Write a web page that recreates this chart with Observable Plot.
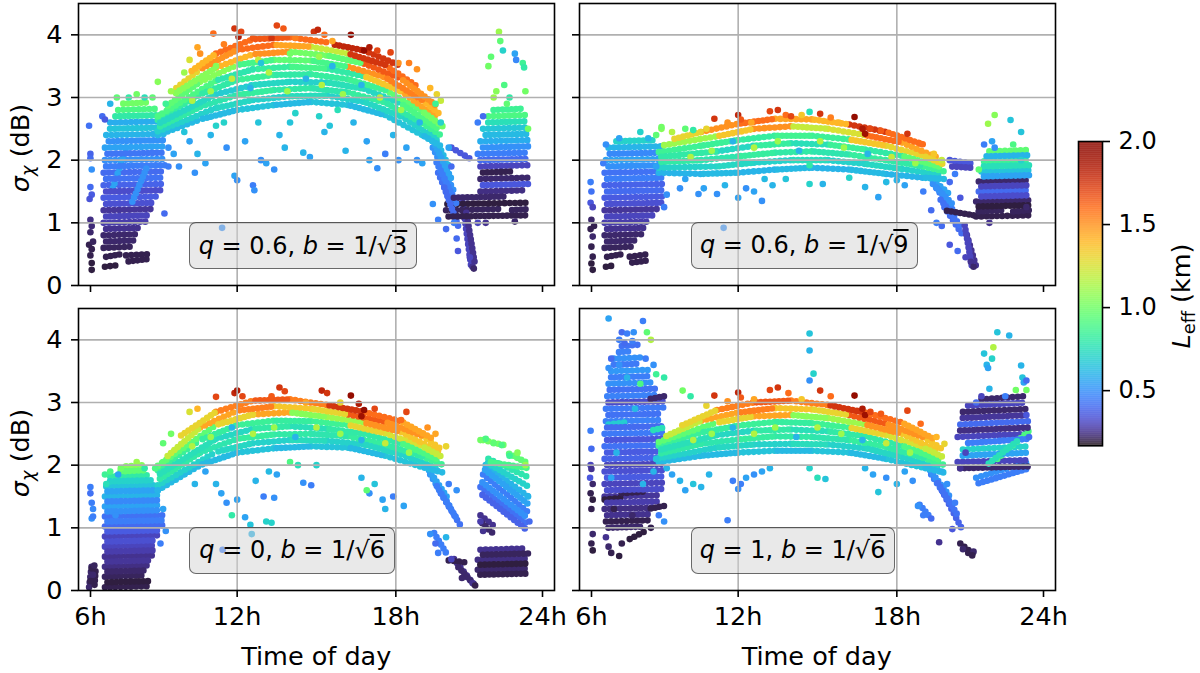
<!DOCTYPE html>
<html><head><meta charset="utf-8">
<script src="https://cdn.jsdelivr.net/npm/d3@7"></script>
<script src="https://cdn.jsdelivr.net/npm/@observablehq/plot@0.6"></script>
<style>
body{margin:0;background:#fff;font-family:"DejaVu Sans",sans-serif;}
#fig{position:relative;width:1200px;height:673px;overflow:hidden;background:#fff;}
.pl{position:absolute;}
.lab{position:absolute;white-space:nowrap;font-size:25.5px;color:#000;line-height:1;}
.rot{transform:translate(-50%,-50%) rotate(-90deg);}
.box{position:absolute;box-sizing:border-box;border:1.6px solid rgba(0,0,0,0.55);border-radius:7px;background:rgba(211,211,211,0.5);display:flex;align-items:center;justify-content:center;font-size:24px;white-space:nowrap;color:#000;}
sub{font-size:0.7em;vertical-align:-0.25em;line-height:0;}
.ov{text-decoration:overline;text-decoration-thickness:1.5px;}
</style></head>
<body><div id="fig"></div>
<script>
// ---------- tick labels / text ----------
const hourTicks = [6, 12, 18, 24];
const sigmaTicks = [0, 1, 2, 3, 4];
const leffTicks = [0.5, 1.0, 1.5, 2.0];
const qValues = ["0.6", "0.6", "0", "1"];
const bRoots = ["3", "9", "6", "6"];

// ---------- data ----------
// tracks / band: [h0, sigma0, h1, sigma1, Leff]  (points sampled along one link), dots: [h, sigma, Leff]
// ===== panel A: q = 0.6, b = 1/sqrt(3) =====
const tracksA = [
[7.0,0.3,7.4,0.32,0.19],[7.8,0.38,8.6,0.42,0.2],[7.8,0.48,8.6,0.5,0.2],[6.95,0.45,7.6,0.5,0.2],[6.95,0.6,8.0,0.62,0.21],
[6.95,0.7,8.2,0.72,0.22],[6.95,0.8,8.3,0.82,0.22],[6.95,0.9,8.4,0.92,0.25],[6.95,1.0,8.6,1.02,0.28],[6.95,1.1,8.7,1.12,0.3],
[6.95,1.2,8.8,1.22,0.26],[6.95,1.3,8.9,1.32,0.33],[6.95,1.4,9.0,1.42,0.36],[6.95,1.5,9.1,1.52,0.32],[6.95,1.6,9.2,1.62,0.38],
[6.95,1.7,9.2,1.72,0.42],[6.95,1.8,9.25,1.82,0.4],[6.95,1.9,9.3,1.92,0.45],[7.0,2.0,9.3,2.02,0.5],[7.0,2.1,9.3,2.12,0.43],
[7.0,2.2,9.3,2.22,0.55],[7.05,2.3,9.3,2.32,0.5],[7.05,2.4,9.3,2.42,0.6],[7.1,2.5,9.2,2.52,0.65],[7.2,2.6,9.1,2.62,0.58],
[7.3,2.7,9.2,2.72,0.8],[7.5,2.8,9.0,2.82,0.9],[7.6,2.9,8.6,2.92,1.0],[7.3,1.55,7.8,2.2,0.55],[8.0,1.3,8.6,1.9,0.5],
// evening
[19.2,2.6,20.0,1.9,0.62],[19.3,2.4,20.1,1.7,0.55],[19.4,2.2,20.2,1.5,0.5],[19.5,2.0,20.3,1.3,0.45],[19.6,1.8,20.3,1.1,0.42],
[19.8,1.6,20.4,0.9,0.4],[20.5,1.4,20.85,0.3,0.3],[20.65,1.2,21.0,0.32,0.25],[20.1,2.2,20.9,2.0,0.35],
// night
[19.9,1.1,23.0,1.12,0.2],[19.9,1.2,21.9,1.22,0.21],[22.3,1.2,23.0,1.22,0.21],[19.95,1.3,23.0,1.32,0.19],[20.1,1.4,22.2,1.42,0.22],
[21.2,1.5,22.9,1.52,0.24],[21.2,1.6,23.0,1.62,0.35],[21.2,1.7,23.0,1.72,0.22],[21.2,1.8,22.4,1.82,0.2],[21.2,1.9,23.05,1.92,0.3],
[21.1,2.0,23.05,2.02,0.4],[21.1,2.1,23.05,2.12,0.45],[21.2,2.2,23.05,2.22,0.5],[21.2,2.3,23.0,2.32,0.58],[21.3,2.4,23.0,2.42,0.62],
[21.3,2.5,23.0,2.52,0.66],[21.4,2.6,22.9,2.62,0.75],[21.5,2.7,22.9,2.72,0.9],[21.6,2.8,22.8,2.82,0.85]
];
const bandA = [
[9.0,2.4,10.6,2.65,0.62],[10.6,2.65,12.0,2.8,0.62],[12.0,2.8,13.4,2.88,0.65],[13.4,2.88,14.8,2.93,0.62],[14.8,2.93,16.2,2.88,0.65],[16.2,2.88,17.6,2.72,0.62],[17.6,2.72,19.0,2.4,0.65],[19.0,2.4,19.8,2.2,0.62],
[9.0,2.46,11.2,2.83,0.7],[11.2,2.83,12.6,2.96,0.72],[12.6,2.96,14.0,3.02,0.7],[14.0,3.02,15.4,3.03,0.74],[15.4,3.03,16.8,2.93,0.7],[16.8,2.93,18.2,2.7,0.72],[18.2,2.7,19.6,2.33,0.7],
[9.0,2.52,10.6,2.85,0.8],[10.6,2.85,12.0,3.04,0.78],[12.0,3.04,13.4,3.12,0.82],[13.4,3.12,14.8,3.15,0.8],[14.8,3.15,16.2,3.08,0.78],[16.2,3.08,17.6,2.92,0.82],[17.6,2.92,19.0,2.59,0.8],[19.0,2.59,19.8,2.37,0.85],
[9.0,2.58,11.2,3.05,0.72],[11.2,3.05,12.6,3.2,0.68],[12.6,3.2,14.0,3.25,0.72],[14.0,3.25,15.4,3.24,0.7],[15.4,3.24,16.8,3.14,0.75],[16.8,3.14,18.2,2.9,0.72],[18.2,2.9,19.6,2.5,0.9],
[9.0,2.64,10.6,3.05,0.82],[10.6,3.05,12.0,3.28,0.8],[12.0,3.28,13.4,3.36,0.84],[13.4,3.36,14.8,3.37,0.8],[14.8,3.37,16.2,3.29,0.82],[16.2,3.29,17.6,3.12,0.85],[17.6,3.12,19.0,2.78,0.95],[19.0,2.78,19.8,2.53,1.0],
[9.0,2.7,11.2,3.27,0.9],[11.2,3.27,12.6,3.45,0.78],[12.6,3.45,14.0,3.49,0.82],[14.0,3.49,15.4,3.46,0.88],[15.4,3.46,16.8,3.34,0.8],[16.8,3.34,18.2,3.1,1.35],[18.2,3.1,19.6,2.67,1.45],
[9.3,2.85,10.6,3.25,0.95],[10.6,3.25,12.0,3.52,1.05],[12.0,3.52,13.4,3.6,0.88],[13.4,3.6,14.8,3.59,0.95],[14.8,3.59,16.2,3.49,0.88],[16.2,3.49,17.6,3.32,1.5],[17.6,3.32,19.0,2.96,1.55],[19.0,2.96,19.7,2.72,1.4],
[9.6,3.05,11.2,3.48,1.05],[11.2,3.48,12.6,3.69,1.4],[12.6,3.69,14.0,3.73,1.5],[14.0,3.73,15.4,3.67,1.0],[15.4,3.67,16.8,3.54,0.95],[16.8,3.54,18.2,3.3,1.65],[18.2,3.3,19.5,2.88,1.5],
[9.7,3.15,10.6,3.45,1.3],[10.6,3.45,12.0,3.76,1.5],[12.0,3.76,13.4,3.84,1.6],[13.4,3.84,14.8,3.81,1.45],[14.8,3.81,16.2,3.7,1.2],[16.2,3.7,17.6,3.52,1.75],[17.6,3.52,18.9,3.15,1.6],
[10.2,3.4,11.2,3.7,1.4],[11.2,3.7,12.6,3.93,1.6],[12.6,3.93,14.0,3.96,1.65],[14.0,3.96,15.4,3.88,1.6],[15.6,3.85,16.8,3.75,1.8],[16.8,3.75,18.2,3.5,1.75]
];
const dotsA = [
[6.4,2.55,0.42],[6.45,2.1,0.38],[6.45,2.03,0.4],[6.5,1.85,0.5],[6.45,1.57,0.4],[6.5,1.45,0.36],[6.42,1.38,0.34],
[6.45,1.05,0.24],[6.5,0.95,0.23],[6.45,0.85,0.22],[6.4,0.65,0.2],[6.5,0.58,0.2],[6.45,0.48,0.2],[6.5,0.36,0.19],
[6.5,0.25,0.19],[6.55,0.7,0.21],
[6.9,2.7,0.4],[7.0,2.65,0.36],[7.2,2.9,0.6],[7.45,3.0,0.95],[7.9,3.0,0.8],[8.2,3.05,1.0],[8.5,3.0,0.75],
[8.8,3.0,0.95],[9.0,3.25,1.05],[9.3,2.9,0.85],[9.4,2.2,0.5],[9.4,1.9,0.45],[9.25,1.15,0.4],[9.5,3.1,1.1],
[10.0,3.4,1.1],[10.2,3.6,1.25],[10.5,3.8,1.45],[10.6,3.7,1.5],[11.1,4.02,1.6],[11.5,3.85,1.55],[11.9,4.1,1.75],
[12.05,3.97,1.85],[12.15,4.05,1.7],[12.6,3.95,1.65],[13.3,3.95,1.75],[13.5,4.15,1.7],[13.75,4.1,1.65],
[14.2,3.95,1.55],[14.9,4.05,1.75],[15.05,4.08,1.8],[15.3,4.0,1.6],[15.6,3.9,1.45],[16.3,4.0,1.95],
[16.8,3.75,1.95],[17.0,3.8,1.85],[17.3,3.75,1.7],[17.8,3.72,1.7],[18.1,3.55,1.5],[18.5,3.55,1.55],[18.8,3.45,1.5],
[19.3,3.15,1.4],[19.55,3.05,1.3],[19.7,2.95,1.2],[15.1,3.65,1.1],[14.0,3.7,1.0],[11.2,3.5,1.05],[12.8,3.6,1.2],
[10.3,2.95,1.15],[11.0,3.1,1.1],[11.8,3.3,1.2],[12.5,3.15,0.6],[13.2,3.4,1.15],[13.9,3.1,1.1],[14.6,3.3,0.6],
[15.2,3.2,1.15],[16.0,3.05,1.1],[16.7,3.2,0.6],[17.4,3.0,1.2],[18.2,2.8,1.1],[18.9,2.6,0.6],[12.9,3.55,0.65],[15.6,3.5,0.6],
[10.2,2.3,0.55],[10.5,2.1,0.6],[10.8,1.95,0.55],[11.0,2.4,0.6],[11.2,2.55,0.7],[11.6,2.2,0.5],[11.9,1.75,0.55],
[12.0,1.68,0.5],[12.3,2.3,0.55],[12.6,1.6,0.45],[12.65,1.52,0.5],[12.9,2.0,0.5],[13.1,1.95,0.55],[13.4,1.85,0.5],
[13.6,2.4,0.6],[14.0,2.6,0.65],[14.5,2.12,0.6],[14.75,2.05,0.55],[15.1,2.7,0.7],[15.5,2.55,0.65],[15.8,2.8,0.75],
[16.4,2.6,0.6],[16.9,2.3,0.55],[17.0,2.0,0.55],[17.3,1.87,0.5],[17.6,2.1,0.45],[17.9,2.4,0.6],[18.1,2.0,0.5],
[18.4,2.2,0.55],[18.8,2.0,0.5],[19.0,1.95,0.55],[9.6,2.1,0.55],[9.8,1.9,0.5],[16.1,2.15,0.6],[15.3,2.45,0.6],
[12.8,2.6,0.65],[13.8,2.2,0.6],[11.43,0.92,0.5],[10.4,1.8,0.5],[14.2,2.75,0.7],[10.0,2.45,0.65],[11.5,2.6,0.7],
[19.5,2.9,0.85],[19.7,2.6,0.7],[20.0,2.2,0.55],[20.1,1.9,0.4],[20.3,0.75,0.4],[20.35,0.55,0.35],[20.9,0.3,0.25],
[20.95,0.27,0.22],[20.8,0.45,0.3],[19.6,1.05,0.45],[20.2,1.0,0.45],[19.4,1.3,0.5],[19.9,0.9,0.4],
[21.9,4.05,1.1],[21.95,3.9,0.95],[22.05,3.75,0.7],[22.5,3.7,0.55],[22.55,3.6,0.48],[22.8,3.55,0.85],[22.85,3.48,0.8],
[21.6,3.65,0.95],[21.5,3.5,1.0],[22.1,3.2,0.9],[21.8,3.1,1.05],[22.3,3.0,0.8],[21.3,2.7,0.4],[21.1,2.6,0.45],
[22.9,3.1,1.0],[23.0,2.5,1.0],[21.1,1.0,0.3],[21.4,1.0,0.25],[22.5,1.02,0.22],[22.2,2.9,0.95],[21.7,3.0,1.1]
];

// ===== panel B: q = 0.6, b = 1/sqrt(9) =====
const tracksB = [
[7.0,0.3,7.3,0.32,0.19],[7.9,0.36,8.6,0.4,0.2],[7.9,0.46,8.6,0.5,0.2],[6.95,0.45,7.6,0.5,0.2],[6.95,0.6,8.0,0.62,0.21],
[6.95,0.7,8.2,0.72,0.22],[6.95,0.8,8.4,0.82,0.22],[6.95,0.9,8.5,0.92,0.25],[6.95,1.0,8.7,1.02,0.28],[6.95,1.1,8.9,1.12,0.3],
[6.95,1.2,9.0,1.22,0.26],[6.95,1.3,9.1,1.32,0.33],[6.95,1.4,9.2,1.42,0.36],[6.95,1.5,9.2,1.52,0.4],[6.95,1.6,9.2,1.62,0.38],
[6.95,1.7,9.25,1.72,0.45],[6.95,1.8,9.3,1.82,0.42],[7.0,1.9,9.3,1.92,0.5],[7.0,2.0,9.3,2.02,0.55],[7.05,2.1,9.2,2.12,0.48],
[7.1,2.2,9.1,2.22,0.6],[7.3,2.3,8.9,2.32,0.7],
[19.2,1.75,20.0,1.45,0.55],[19.3,1.65,20.1,1.3,0.5],[19.5,1.55,20.3,1.1,0.45],[19.6,1.4,20.4,0.95,0.42],[19.8,1.25,20.5,0.8,0.4],
[20.55,1.0,20.85,0.28,0.3],[20.65,0.8,21.0,0.3,0.25],[19.8,1.2,20.9,1.12,0.2],[20.0,2.0,20.8,1.95,0.35],[20.0,1.9,20.8,1.88,0.3],
[21.0,1.1,23.0,1.12,0.2],[21.0,1.18,22.0,1.2,0.21],[22.4,1.18,23.0,1.2,0.21],[21.0,1.26,23.0,1.28,0.19],[21.0,1.34,23.0,1.36,0.22],
[21.1,1.42,23.0,1.44,0.32],[21.1,1.5,23.05,1.52,0.4],[21.1,1.58,23.05,1.6,0.3],[21.1,1.66,23.05,1.68,0.22],[21.2,1.74,23.05,1.76,0.55],
[21.2,1.82,23.05,1.84,0.65],[21.2,1.9,23.0,1.92,0.75],[21.3,1.98,23.0,2.0,0.85],[21.3,2.06,23.0,2.08,0.6],[21.5,2.14,22.9,2.16,0.95]
];
const bandB = [
[9.0,1.8,10.6,1.78,0.6],[10.6,1.78,12.0,1.8,0.62],[12.0,1.8,13.4,1.85,0.6],[13.4,1.85,14.8,1.88,0.62],[14.8,1.88,16.2,1.85,0.6],[16.2,1.85,17.6,1.78,0.62],[17.6,1.78,19.0,1.72,0.6],[19.0,1.72,19.8,1.7,0.62],
[9.0,1.88,11.2,1.9,0.7],[11.2,1.9,12.6,1.96,0.72],[12.6,1.96,14.0,2.0,0.7],[14.0,2.0,15.4,2.0,0.74],[15.4,2.0,16.8,1.94,0.7],[16.8,1.94,18.2,1.86,0.72],[18.2,1.86,19.6,1.77,0.7],
[9.0,1.97,10.6,2.0,0.8],[10.6,2.0,12.0,2.06,0.78],[12.0,2.06,13.4,2.12,0.82],[13.4,2.12,14.8,2.14,0.8],[14.8,2.14,16.2,2.09,0.78],[16.2,2.09,17.6,2.0,0.82],[17.6,2.0,19.0,1.9,0.8],[19.0,1.9,19.8,1.82,0.85],
[9.0,2.05,11.2,2.14,0.8],[11.2,2.14,12.6,2.23,0.72],[12.6,2.23,14.0,2.27,0.82],[14.0,2.27,15.4,2.25,0.75],[15.4,2.25,16.8,2.17,0.84],[16.8,2.17,18.2,2.07,0.8],[18.2,2.07,19.6,1.9,0.95],
[9.0,2.13,10.6,2.23,0.85],[10.6,2.23,12.0,2.32,0.84],[12.0,2.32,13.4,2.39,0.82],[13.4,2.39,14.8,2.39,0.86],[14.8,2.39,16.2,2.33,0.84],[16.2,2.33,17.6,2.23,1.35],[17.6,2.23,19.0,2.07,1.3],[19.0,2.07,19.8,1.93,1.3],
[9.2,2.24,11.2,2.38,1.1],[11.2,2.38,12.6,2.5,1.35],[12.6,2.5,14.0,2.54,1.5],[14.0,2.54,15.4,2.5,1.2],[15.4,2.5,16.8,2.4,1.25],[16.8,2.4,18.2,2.28,1.6],[18.2,2.28,19.6,2.03,1.45],
[9.5,2.33,10.6,2.45,1.3],[10.6,2.45,12.0,2.58,1.5],[12.0,2.58,13.4,2.66,1.6],[13.4,2.66,14.8,2.65,1.45],[14.8,2.65,16.2,2.57,1.4],[16.2,2.57,17.6,2.45,1.75],[17.6,2.45,19.0,2.25,1.6]
];
const dotsB = [
[6.42,1.65,0.45],[6.45,1.5,0.42],[6.42,1.32,0.35],[6.5,1.25,0.3],[6.45,1.05,0.22],[6.42,0.9,0.2],[6.5,0.78,0.22],
[6.45,0.62,0.2],[6.5,0.46,0.2],[6.45,0.35,0.19],[6.5,0.25,0.19],[6.55,0.95,0.2],
[6.9,1.95,0.45],[7.0,2.25,0.5],[7.5,2.35,0.55],[8.3,2.45,0.7],[8.6,2.35,0.6],[8.9,2.4,0.95],[9.1,2.5,1.05],
[9.2,1.25,0.45],[9.3,1.45,0.5],[8.9,1.9,0.55],
[11.1,2.66,1.75],[12.0,2.72,1.8],[12.1,2.65,1.65],[13.2,2.78,1.7],[13.5,2.8,1.75],[13.8,2.72,1.6],[14.0,2.7,1.7],
[15.1,2.74,1.75],[15.5,2.68,1.55],[16.4,2.69,1.95],[16.7,2.5,1.85],[16.8,2.42,1.9],[17.0,2.5,1.7],[17.4,2.47,1.65],
[18.4,2.42,1.75],[18.9,2.26,1.6],[14.7,2.77,0.75],[14.4,2.72,1.35],[9.1,2.53,1.0],[9.5,2.45,1.15],[10.0,2.5,0.95],
[10.3,2.48,0.8],[10.8,2.5,1.3],[11.6,2.6,1.5],[12.5,2.6,1.45],[15.8,2.6,1.4],[19.4,2.1,1.35],[19.7,2.0,1.2],
[10.2,2.05,1.15],[11.0,2.15,1.1],[11.8,2.3,0.6],[12.6,2.2,1.15],[13.5,2.3,1.1],[14.3,2.15,0.6],[15.1,2.3,1.15],
[16.0,2.2,1.1],[16.9,2.1,0.6],[17.8,2.05,1.2],[18.7,1.95,1.1],
[10.5,1.46,0.5],[10.7,1.55,0.55],[11.2,1.46,0.5],[11.5,1.6,0.6],[12.0,1.4,0.55],[12.3,1.55,0.5],[12.9,1.35,0.5],
[12.6,1.5,0.55],[13.3,1.6,0.6],[13.8,1.7,0.65],[14.7,1.62,0.7],[15.2,1.62,0.6],[14.7,1.92,0.8],[13.0,1.7,0.62],
[10.0,1.7,0.55],[9.8,1.55,0.5],[16.8,1.57,0.6],[17.3,1.41,0.55],[17.6,1.65,0.62],[18.0,1.68,0.6],[18.3,1.6,0.55],
[16.2,1.72,0.7],[11.45,0.92,0.5],
[19.0,1.5,0.45],[19.3,1.2,0.4],[19.5,1.0,0.45],[19.7,0.95,0.4],[20.0,0.65,0.35],[20.3,0.55,0.4],[20.6,0.45,0.3],
[20.8,0.38,0.25],[20.9,0.3,0.22],[20.7,0.7,0.3],
[21.7,2.72,1.05],[22.3,2.64,0.65],[21.45,2.58,1.1],[22.7,2.45,0.65],[21.6,2.3,0.55],[21.3,2.25,0.45],[22.4,2.25,0.9],
[21.7,2.2,0.5],[22.7,2.0,0.7],[21.1,1.85,0.95],[20.2,1.78,0.45],[20.0,1.65,0.4],[20.4,1.4,0.35],[22.9,1.25,0.22],[21.5,1.0,0.25]
];

// ===== panel C: q = 0, b = 1/sqrt(6) =====
const tracksC = [
[6.4,0.05,6.5,0.4,0.22],[6.6,0.05,6.65,0.35,0.2],
[7.0,0.05,8.7,0.07,0.2],[7.0,0.13,8.7,0.15,0.19],[7.0,0.22,8.5,0.24,0.21],[7.0,0.3,8.6,0.32,0.22],[7.0,0.38,8.6,0.4,0.24],
[7.0,0.46,8.7,0.48,0.26],[7.0,0.54,8.8,0.56,0.25],[7.0,0.62,8.8,0.64,0.28],[7.0,0.7,8.9,0.72,0.3],[7.0,0.78,8.9,0.8,0.33],
[7.0,0.86,9.0,0.88,0.3],[7.0,0.94,9.1,0.96,0.36],[7.0,1.02,9.3,1.04,0.4],[7.0,1.1,9.3,1.12,0.45],[7.0,1.18,9.2,1.2,0.42],
[7.0,1.26,9.1,1.28,0.5],[7.0,1.34,9.1,1.36,0.55],[7.0,1.42,9.1,1.44,0.48],[7.0,1.5,9.0,1.52,0.6],[7.0,1.58,9.0,1.6,0.55],
[7.05,1.66,8.9,1.68,0.65],[7.1,1.74,8.8,1.76,0.7],[7.2,1.82,8.7,1.84,0.8],[7.5,1.9,8.6,1.92,0.95],[7.8,1.98,8.4,2.0,1.05],
[19.2,1.95,20.0,1.45,0.55],[19.3,1.85,20.1,1.3,0.5],[19.5,1.7,20.3,1.15,0.45],[19.7,1.55,20.5,1.0,0.42],[19.4,0.95,19.9,0.6,0.45],
[20.2,0.5,20.9,0.12,0.25],[20.3,0.4,21.0,0.08,0.22],[20.0,0.48,20.6,0.45,0.2],
[21.1,0.25,23.0,0.27,0.2],[21.1,0.33,23.0,0.35,0.22],[21.1,0.41,23.0,0.43,0.19],[21.1,0.49,23.0,0.51,0.24],[21.2,0.57,23.0,0.59,0.21],[21.2,0.65,22.9,0.67,0.25],
[21.2,1.55,23.0,0.95,0.38],[21.2,1.65,23.0,1.05,0.42],[21.2,1.75,23.0,1.15,0.5],[21.3,1.85,23.0,1.25,0.45],[21.3,1.95,23.0,1.38,0.55],
[21.4,2.0,23.0,1.5,0.6],[21.4,2.05,23.05,1.65,0.7],[21.5,2.1,23.05,1.8,0.78],[21.5,2.05,23.05,1.95,0.88],[21.3,2.4,22.1,2.32,1.0],
[22.2,2.2,22.9,2.05,0.95],[21.2,1.2,21.8,1.0,0.25],[21.2,1.1,21.7,0.9,0.22]
];
const bandC = [
[9.0,1.6,10.6,2.0,0.62],[10.6,2.0,12.0,2.2,0.62],[12.0,2.2,13.4,2.27,0.65],[13.4,2.27,14.8,2.3,0.62],[14.8,2.3,16.2,2.28,0.65],[16.2,2.28,17.6,2.15,0.62],[17.6,2.15,19.0,1.97,0.65],[19.0,1.97,19.8,1.88,0.62],
[9.0,1.68,11.2,2.21,0.7],[11.2,2.21,12.6,2.35,0.72],[12.6,2.35,14.0,2.4,0.7],[14.0,2.4,15.4,2.39,0.74],[15.4,2.39,16.8,2.33,0.7],[16.8,2.33,18.2,2.17,0.72],[18.2,2.17,19.6,1.96,0.7],
[9.0,1.76,10.6,2.2,0.8],[10.6,2.2,12.0,2.42,0.78],[12.0,2.42,13.4,2.49,0.82],[13.4,2.49,14.8,2.5,0.8],[14.8,2.5,16.2,2.46,0.78],[16.2,2.46,17.6,2.33,0.82],[17.6,2.33,19.0,2.14,0.8],[19.0,2.14,19.8,2.0,0.85],
[9.0,1.84,11.2,2.42,0.75],[11.2,2.42,12.6,2.58,0.72],[12.6,2.58,14.0,2.62,0.8],[14.0,2.62,15.4,2.58,0.75],[15.4,2.58,16.8,2.5,0.8],[16.8,2.5,18.2,2.35,0.8],[18.2,2.35,19.6,2.09,0.9],
[9.0,1.92,10.6,2.4,0.84],[10.6,2.4,12.0,2.64,0.82],[12.0,2.64,13.4,2.71,0.84],[13.4,2.71,14.8,2.7,0.82],[14.8,2.7,16.2,2.64,0.85],[16.2,2.64,17.6,2.51,1.3],[17.6,2.51,19.0,2.3,1.25],[19.0,2.3,19.8,2.12,1.2],
[9.0,1.99,11.2,2.64,0.95],[11.2,2.64,12.6,2.81,1.3],[12.6,2.81,14.0,2.84,1.45],[14.0,2.84,15.4,2.77,1.05],[15.4,2.77,16.8,2.68,1.1],[16.8,2.68,18.2,2.53,1.5],[18.2,2.53,19.6,2.22,1.35],
[9.3,2.12,10.6,2.6,1.2],[10.6,2.6,12.0,2.87,1.45],[12.0,2.87,13.4,2.94,1.55],[13.4,2.94,14.8,2.9,1.35],[14.8,2.9,16.2,2.81,1.3],[16.2,2.81,17.6,2.69,1.65],[17.6,2.69,19.0,2.47,1.5],[19.0,2.47,19.7,2.26,1.35],
[9.8,2.45,11.2,2.85,1.3],[11.2,2.85,12.6,3.03,1.55],[12.6,3.03,14.0,3.05,1.65],[14.0,3.05,15.4,2.96,1.55],[15.4,2.96,16.8,2.85,1.75],[16.8,2.85,18.2,2.7,1.6],[18.2,2.7,19.4,2.42,1.45]
];
const dotsC = [
[6.45,1.65,0.45],[6.45,1.55,0.42],[6.5,1.4,0.45],[6.55,1.3,0.48],[6.5,1.15,0.5],[6.55,1.18,0.45],[6.5,0.35,0.2],
[6.55,0.25,0.22],[6.45,0.15,0.2],[6.6,0.4,0.21],
[7.0,1.85,0.85],[7.05,1.7,0.75],[7.2,1.9,0.9],[7.6,1.95,1.0],[7.5,1.85,0.55],[8.2,2.05,1.1],[8.5,1.95,0.8],
[9.0,1.6,0.6],[9.2,1.3,0.55],[9.3,0.95,0.5],[9.1,0.75,0.45],[7.4,1.2,0.5],[8.9,1.95,0.9],[9.2,2.05,0.95],
[11.2,3.09,1.7],[11.9,3.15,1.8],[12.0,3.19,1.85],[12.2,3.1,1.7],[13.6,3.24,1.75],[13.8,3.18,1.7],[13.3,3.1,1.65],
[15.2,3.19,1.8],[15.4,3.15,1.75],[16.3,3.11,1.95],[16.6,2.98,1.85],[16.8,2.88,1.95],[16.7,2.78,1.9],[17.2,2.9,1.7],
[18.4,2.85,1.7],[18.2,2.72,1.6],[19.2,2.6,1.5],[19.5,2.5,1.45],[19.9,2.3,1.3],[10.2,2.85,1.25],[10.5,2.9,1.4],
[15.9,3.0,1.3],[14.6,3.0,1.45],[9.5,2.5,1.0],[9.2,2.35,0.95],
[10.3,2.3,1.15],[11.0,2.45,1.1],[11.8,2.6,0.6],[12.6,2.5,1.15],[13.4,2.6,1.1],[14.2,2.45,0.6],[15.0,2.6,1.15],
[15.9,2.5,1.1],[16.7,2.4,0.6],[17.6,2.35,1.2],[18.5,2.2,1.1],
[11.2,1.7,0.6],[11.4,1.55,0.55],[11.6,1.4,0.5],[12.0,1.45,0.55],[11.8,1.2,0.8],[12.3,1.17,0.55],[12.5,1.05,0.65],
[12.55,0.9,0.6],[13.1,1.1,0.7],[13.3,1.08,0.7],[13.0,1.5,0.45],[13.4,1.48,0.5],[12.7,1.75,0.6],[13.2,1.9,0.62],
[13.5,1.85,0.55],[14.0,2.05,0.9],[14.3,2.0,0.75],[14.5,1.72,0.5],[14.8,1.68,0.45],[15.0,2.0,0.7],[11.45,0.65,0.45],
[10.8,1.9,0.55],[10.4,1.7,0.6],[16.7,1.8,0.6],[17.0,1.55,0.5],[17.2,1.7,0.65],[17.5,1.45,0.55],[17.6,1.3,0.6],
[17.9,1.5,0.45],[16.9,1.6,0.95],[18.3,1.35,0.55],
[19.3,0.9,0.5],[19.5,0.75,0.4],[19.6,0.6,0.45],[19.9,0.85,0.6],[20.1,0.5,0.3],[20.5,0.2,0.22],[20.9,0.12,0.25],
[21.0,0.08,0.2],[21.2,2.4,1.0],[21.4,2.42,0.9],[21.7,2.35,0.95],[22.0,2.32,0.9],[22.3,2.15,0.85],[22.6,2.2,1.05],
[22.9,2.0,1.1],[23.0,1.5,0.6],[23.05,1.1,0.4],[21.2,1.1,0.28],[21.3,0.95,0.25],[20.0,1.7,0.45],[20.3,1.6,0.5]
];

// ===== panel D: q = 1, b = 1/sqrt(6) =====
const tracksD = [
[7.9,0.82,8.5,0.95,0.19],[7.0,1.0,8.4,1.02,0.22],[7.0,1.1,8.6,1.12,0.2],[6.95,1.2,8.7,1.22,0.25],[6.95,1.3,8.9,1.32,0.24],
[6.95,1.4,9.0,1.42,0.28],[6.95,1.5,9.1,1.52,0.26],[6.95,1.6,9.2,1.62,0.32],[6.95,1.7,9.2,1.72,0.3],[6.95,1.8,9.2,1.82,0.36],
[6.95,1.9,9.2,1.92,0.33],[6.95,2.0,9.2,2.02,0.3],[6.95,2.1,9.2,2.12,0.38],[6.95,2.2,9.2,2.22,0.36],[6.95,2.3,9.2,2.32,0.42],
[6.95,2.4,9.2,2.42,0.35],[6.95,2.5,9.2,2.52,0.44],[6.95,2.6,9.1,2.62,0.4],[7.0,2.7,9.1,2.72,0.46],[7.0,2.8,9.1,2.82,0.42],
[7.0,2.9,9.2,2.92,0.44],[7.0,3.0,9.2,3.02,0.32],[7.05,3.1,9.0,3.12,0.46],[7.05,3.2,8.9,3.22,0.42],[7.1,3.3,8.8,3.32,0.5],
[7.1,3.4,8.7,3.42,0.45],[7.2,3.5,8.6,3.52,0.52],[7.2,3.6,8.3,3.62,0.44],[7.3,3.7,8.4,3.72,0.5],[7.4,3.8,8.0,3.82,0.46],[7.6,3.9,8.2,3.92,0.42],
[8.6,1.3,9.2,1.35,0.2],[6.95,1.45,7.6,1.48,0.19],[8.7,2.55,9.2,2.6,0.75],[7.1,2.65,7.7,2.68,0.68],[8.6,3.05,9.2,3.1,0.22],[7.6,1.55,8.5,1.58,0.2],
[19.2,1.95,20.0,1.5,0.5],[19.3,1.85,20.1,1.35,0.45],[19.5,1.75,20.3,1.2,0.42],[19.7,1.6,20.5,0.95,0.38],[18.8,1.4,19.3,1.15,0.45],[20.4,0.75,20.9,0.58,0.2],
[21.0,1.7,23.0,1.95,0.45],[21.0,1.8,23.0,2.05,0.5],[20.3,1.95,23.0,1.98,0.22],[20.3,2.05,23.0,2.08,0.3],[20.4,2.15,23.0,2.2,0.55],
[20.5,2.25,23.0,2.3,0.7],[20.6,2.35,23.0,2.42,0.45],[20.3,2.45,23.0,2.5,0.3],[20.3,2.55,23.0,2.6,0.24],[20.4,2.65,23.0,2.7,0.4],
[20.4,2.75,23.0,2.8,0.26],[20.5,2.85,23.0,2.9,0.22],[20.6,2.95,22.9,3.0,0.3],[21.2,3.05,22.8,3.1,0.22],
[21.4,2.0,22.6,2.4,0.75],[21.8,2.1,23.0,2.55,0.9]
];
const bandD = [
[9.0,2.05,10.6,2.15,0.62],[10.6,2.15,12.0,2.2,0.62],[12.0,2.2,13.4,2.23,0.65],[13.4,2.23,14.8,2.23,0.62],[14.8,2.23,16.2,2.2,0.65],[16.2,2.2,17.6,2.1,0.62],[17.6,2.1,19.0,1.96,0.65],[19.0,1.96,19.8,1.88,0.62],
[9.0,2.11,11.2,2.28,0.7],[11.2,2.28,12.6,2.33,0.72],[12.6,2.33,14.0,2.34,0.7],[14.0,2.34,15.4,2.33,0.74],[15.4,2.33,16.8,2.27,0.7],[16.8,2.27,18.2,2.13,0.72],[18.2,2.13,19.6,1.96,0.7],
[9.0,2.18,10.6,2.34,0.8],[10.6,2.34,12.0,2.41,0.78],[12.0,2.41,13.4,2.46,0.82],[13.4,2.46,14.8,2.45,0.8],[14.8,2.45,16.2,2.4,0.78],[16.2,2.4,17.6,2.29,0.82],[17.6,2.29,19.0,2.12,0.8],[19.0,2.12,19.8,2.0,0.85],
[9.0,2.24,11.2,2.48,0.75],[11.2,2.48,12.6,2.55,0.72],[12.6,2.55,14.0,2.57,0.8],[14.0,2.57,15.4,2.54,0.75],[15.4,2.54,16.8,2.46,0.8],[16.8,2.46,18.2,2.31,0.8],[18.2,2.31,19.6,2.09,0.9],
[9.0,2.31,10.6,2.52,0.84],[10.6,2.52,12.0,2.63,0.82],[12.0,2.63,13.4,2.69,0.84],[13.4,2.69,14.8,2.67,0.82],[14.8,2.67,16.2,2.6,0.85],[16.2,2.6,17.6,2.48,1.3],[17.6,2.48,19.0,2.28,1.25],[19.0,2.28,19.8,2.12,1.2],
[9.0,2.37,11.2,2.68,0.95],[11.2,2.68,12.6,2.78,1.3],[12.6,2.78,14.0,2.8,1.45],[14.0,2.8,15.4,2.75,1.05],[15.4,2.75,16.8,2.65,1.1],[16.8,2.65,18.2,2.5,1.5],[18.2,2.5,19.6,2.22,1.35],
[9.2,2.45,10.6,2.71,1.2],[10.6,2.71,12.0,2.84,1.45],[12.0,2.84,13.4,2.91,1.55],[13.4,2.91,14.8,2.89,1.35],[14.8,2.89,16.2,2.8,1.3],[16.2,2.8,17.6,2.66,1.65],[17.6,2.66,19.0,2.45,1.5],[19.0,2.45,19.7,2.26,1.35],
[9.8,2.62,11.2,2.88,1.3],[11.2,2.88,12.6,3.0,1.55],[12.6,3.0,14.0,3.03,1.65],[14.0,3.03,15.4,2.96,1.55],[15.4,2.96,16.8,2.84,1.75],[16.8,2.84,18.2,2.68,1.6],[18.2,2.68,19.4,2.42,1.45]
];
const dotsD = [
[6.42,2.55,0.45],[6.45,2.26,0.4],[6.42,2.0,0.3],[6.45,1.94,0.25],[6.5,1.7,0.22],[6.42,1.55,0.2],[6.5,1.45,0.19],
[6.45,1.3,0.2],[6.5,0.9,0.22],[6.45,0.75,0.2],[6.5,0.64,0.19],[6.4,1.8,0.35],
[7.1,4.34,0.55],[7.5,4.0,0.45],[7.6,4.12,0.4],[7.8,4.1,0.45],[8.05,4.12,0.5],[8.4,4.3,0.45],[8.55,4.12,0.95],
[8.7,4.0,1.15],[8.3,3.3,0.9],[8.9,3.45,0.85],[9.2,3.4,0.8],[7.7,3.95,0.4],[7.2,3.7,0.4],[8.0,3.98,0.45],[7.5,3.6,0.5],
[7.1,0.7,0.22],[7.2,0.6,0.2],[7.5,0.55,0.19],[7.6,0.75,0.2],[7.0,0.85,0.25],[8.0,1.2,0.22],[8.7,1.0,0.2],
[9.0,1.2,0.45],[9.2,1.1,0.5],[8.8,1.9,0.6],[7.3,1.3,0.2],[8.5,3.7,0.45],[8.8,3.6,0.5],[7.1,3.55,0.5],
[7.4,2.2,0.6],[8.1,2.9,0.62],[7.8,3.4,0.6],[8.9,2.1,0.65],[7.2,1.8,0.55],[8.4,1.7,0.6],
[9.9,3.19,1.0],[10.2,3.1,0.8],[11.1,3.11,1.75],[12.0,3.16,1.8],[12.1,3.08,1.65],[13.2,3.2,1.7],[13.5,3.24,1.75],
[13.9,3.15,1.6],[15.1,3.19,1.75],[15.5,3.1,1.6],[16.4,3.11,1.95],[16.7,2.9,1.85],[16.8,2.8,1.9],[17.0,2.85,1.7],
[17.4,2.82,1.65],[18.4,2.87,1.7],[18.9,2.66,1.6],[19.5,2.45,1.4],[19.8,2.34,1.3],[14.4,3.05,1.35],[10.8,2.95,1.3],
[11.6,3.02,1.5],[12.6,3.05,1.45],
[10.3,2.4,1.15],[11.0,2.5,1.1],[11.8,2.6,0.6],[12.6,2.5,1.15],[13.4,2.6,1.1],[14.2,2.45,0.6],[15.0,2.6,1.15],
[15.9,2.5,1.1],[16.7,2.4,0.6],[17.6,2.35,1.2],[18.5,2.2,1.1],
[9.3,1.95,0.6],[9.5,1.85,0.55],[9.8,1.75,0.6],[10.0,1.6,0.55],[10.3,1.7,0.65],[10.6,1.65,0.6],[11.8,1.75,0.45],
[12.0,1.62,0.5],[12.1,1.7,0.45],[12.3,1.8,0.55],[12.6,1.85,0.5],[12.9,1.9,0.55],[13.2,1.95,0.6],[11.6,1.12,0.45],
[14.7,1.95,0.7],[15.0,1.8,0.75],[15.3,1.78,0.65],[14.7,4.1,0.65],[14.7,3.83,0.6],[14.85,3.46,0.7],[14.7,3.35,0.5],
[16.8,1.95,0.6],[17.1,1.85,0.55],[17.3,1.57,0.65],[17.6,1.8,0.5],[18.0,1.7,0.6],[18.3,1.9,0.55],[18.6,1.75,0.5],[10.9,1.85,0.6],
[18.8,1.35,0.5],[19.0,1.2,0.45],[19.3,1.15,0.4],[19.6,0.77,0.25],[20.1,0.98,0.35],[20.5,0.66,0.22],[20.7,0.6,0.2],
[20.9,0.62,0.22],[20.85,0.56,0.2],[19.9,1.7,0.5],[19.7,1.9,0.6],[20.2,1.4,0.45],
[21.3,3.78,0.65],[21.4,3.6,0.6],[21.45,3.55,0.55],[21.65,3.88,1.15],[21.6,3.7,0.7],[21.8,4.12,0.65],[22.25,4.07,0.6],
[21.5,3.22,0.6],[22.7,3.59,0.6],[22.75,3.4,0.65],[22.8,3.32,0.55],[22.9,3.35,0.4],[22.5,3.2,1.0],[22.9,3.2,1.0],
[22.1,3.1,0.45],[21.2,3.1,0.3],[21.0,3.0,0.4],[20.6,2.2,0.3],[20.4,1.95,0.25],[22.9,2.8,0.35],[23.0,2.45,0.4]
];

// ---------- layout ----------
const fig = document.getElementById("fig");
const FW = 476, FH = 282, ML = 75, MR = 15, MT = 10, MB = 60;
const leffDomain = [0.168, 2.0];
const panels = [
  {tracks: tracksA, band: bandA, dots: dotsA, left: 78.3, top: 3, yLab: true, xLab: false, box: [189, 222, 228, 47]},
  {tracks: tracksB, band: bandB, dots: dotsB, left: 578.7, top: 3, yLab: false, xLab: false, box: [690.6, 221.7, 227.4, 47]},
  {tracks: tracksC, band: bandC, dots: dotsC, left: 78.3, top: 307.7, yLab: true, xLab: true, box: [189.3, 526.7, 205.7, 47.6]},
  {tracks: tracksD, band: bandD, dots: dotsD, left: 578.7, top: 307.7, yLab: false, xLab: true, box: [690.6, 526.7, 204, 47.3]}
];
const hfmt = d => d + "h";
const none = () => "";

function trackMarks(data) {
  const base = {x1: d => d[0], y1: d => d[1], x2: d => d[2], y2: d => d[3], stroke: d => d[4],
    strokeWidth: 6.6, strokeLinecap: "round", clip: true};
  return [
    Plot.link(data, {...base, filter: (d, i) => i % 2 === 0, strokeDasharray: "0 5.2"}),
    Plot.link(data, {...base, filter: (d, i) => i % 2 === 1, strokeDasharray: "0 4.5", strokeDashoffset: 2})
  ];
}

panels.forEach((p, i) => {
  const tickOpts = {tickSize: 7, tickPadding: 9, strokeWidth: 1.6, label: null};
  const chart = Plot.plot({
    width: ML + FW + MR, height: MT + FH + MB,
    marginLeft: ML, marginRight: MR, marginTop: MT, marginBottom: MB,
    x: {domain: [6, 24]},
    y: {domain: [0, 4.5]},
    color: {type: "linear", scheme: "turbo", domain: leffDomain},
    style: {background: "transparent", overflow: "visible", fontFamily: "DejaVu Sans", fontSize: "25.5px", color: "#000"},
    marks: [
      ...trackMarks(p.tracks),
      ...trackMarks(p.band),
      Plot.dot(p.dots, {x: d => d[0], y: d => d[1], fill: d => d[2], r: 3.3, clip: true}),
      Plot.ruleX(hourTicks.slice(1, 3), {stroke: "#b0b0b0", strokeWidth: 1.6}),
      Plot.ruleY(sigmaTicks.slice(1), {stroke: "#b0b0b0", strokeWidth: 1.6}),
      Plot.frame({stroke: "#000", strokeWidth: 1.6}),
      Plot.axisX({...tickOpts, ticks: hourTicks.slice(1, 3), tickFormat: p.xLab ? hfmt : none}),
      Plot.axisX({...tickOpts, ticks: hourTicks.slice(0, 1), dx: 12, tickFormat: p.xLab ? hfmt : none}),
      Plot.axisX({...tickOpts, ticks: hourTicks.slice(3), dx: -12, tickFormat: p.xLab ? hfmt : none}),
      Plot.axisY({...tickOpts, ticks: sigmaTicks, tickFormat: p.yLab ? (d => String(d)) : none})
    ]
  });
  chart.classList.add("pl");
  chart.style.left = (p.left - ML) + "px";
  chart.style.top = (p.top - MT) + "px";
  fig.appendChild(chart);

  const b = document.createElement("div");
  b.className = "box";
  b.style.left = p.box[0] + "px"; b.style.top = p.box[1] + "px";
  b.style.width = p.box[2] + "px"; b.style.height = p.box[3] + "px";
  b.innerHTML = `<span><i>q</i> = ${qValues[i]}, <i>b</i> = 1/√<span class="ov">${bRoots[i]}</span></span>`;
  fig.appendChild(b);

  if (p.yLab) {
    const yl = document.createElement("div");
    yl.className = "lab rot";
    yl.style.left = "21px"; yl.style.top = (p.top + FH / 2 + 4) + "px";
    yl.innerHTML = `<i>σ</i><sub><i>χ</i></sub> (dB)`;
    fig.appendChild(yl);
  }
  if (p.xLab) {
    const xl = document.createElement("div");
    xl.className = "lab";
    xl.style.left = (p.left + FW / 2) + "px"; xl.style.top = "644px";
    xl.style.transform = "translateX(-50%)";
    xl.textContent = "Time of day";
    fig.appendChild(xl);
  }
});

// ---------- colorbar ----------
const cbSteps = d3.range(0.168, 2.0, 0.004);
const cb = Plot.plot({
  width: 2 + 24 + 70, height: 10 + 304.3 + 10,
  marginLeft: 2, marginRight: 70, marginTop: 10, marginBottom: 10,
  x: {domain: [0, 1], axis: null},
  y: {domain: leffDomain},
  color: {type: "linear", scheme: "turbo", domain: leffDomain},
  style: {background: "transparent", overflow: "visible", fontFamily: "DejaVu Sans", fontSize: "24px", color: "#000"},
  marks: [
    Plot.rect(cbSteps, {x1: 0, x2: 1, y1: d => d, y2: d => Math.min(d + 0.0045, 2.0), fill: d => d}),
    Plot.frame({stroke: "#000", strokeWidth: 1.6}),
    Plot.axisY({anchor: "right", ticks: leffTicks, tickSize: 7, tickPadding: 9, strokeWidth: 1.6, label: null,
      tickFormat: d => d.toFixed(1)})
  ]
});
cb.classList.add("pl");
cb.style.left = (1077.7 - 2) + "px";
cb.style.top = (140.7 - 10) + "px";
fig.appendChild(cb);

const cl = document.createElement("div");
cl.className = "lab rot";
cl.style.left = "1182px"; cl.style.top = "296px";
cl.innerHTML = `<i>L</i><sub>eff</sub> (km)`;
fig.appendChild(cl);
</script>
</body></html>
